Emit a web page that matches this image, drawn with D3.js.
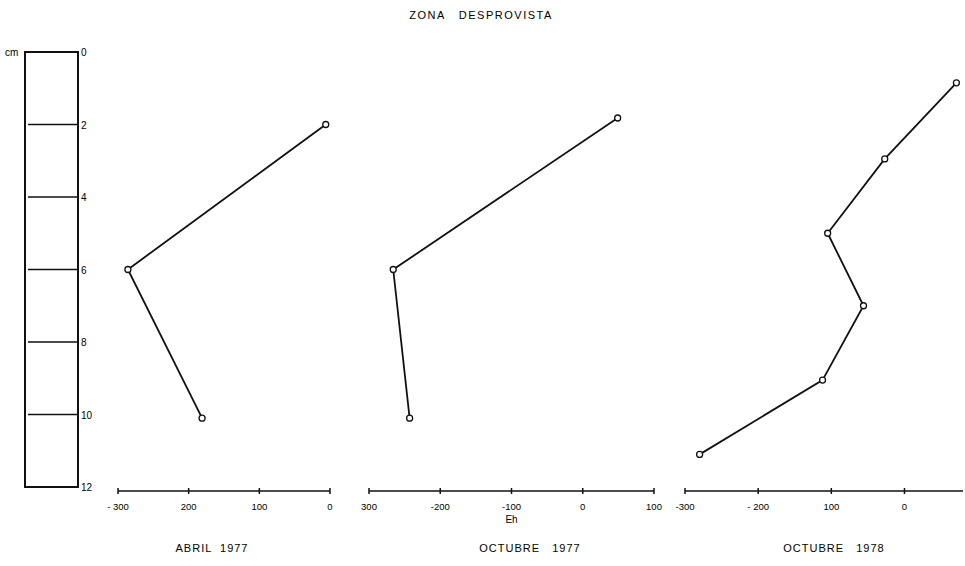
<!DOCTYPE html>
<html>
<head>
<meta charset="utf-8">
<script src="https://cdn.jsdelivr.net/npm/d3@7"></script>
<style>
  body { margin: 0; background: #fff; }
  svg { display: block; font-family: "Liberation Sans", Arial, sans-serif; }
</style>
</head>
<body>
<svg id="chart" width="965" height="566"></svg>
<script>
// datos: profundidad (cm) y Eh (mV)
const depthTicks = [0, 2, 4, 6, 8, 10, 12];

const abril77Depth = [2, 6, 10.1];
const abril77Eh = [-6, -286, -181];

const oct77Depth = [1.82, 6, 10.1];
const oct77Eh = [49, -266, -243];

const oct78Depth = [0.85, 2.95, 5, 7, 9.05, 11.1];
const oct78Eh = [71, -27, -105, -56, -112, -280];

// etiquetas tal como aparecen en la figura
const abril77Ticks = [-300, -200, -100, 0];
const abril77Labels = ["- 300", "200", "100", "0"];
const oct77Ticks = [-300, -200, -100, 0, 100];
const oct77Labels = ["300", "-200", "-100", "0", "100"];
const oct78Ticks = [-300, -200, -100, 0];
const oct78Labels = ["-300", "- 200", "100", "0"];

const svg = d3.select("#chart");

const y = d3.scaleLinear().domain([0, 12]).range([52, 487]);

// titulo
svg.append("text")
  .attr("x", 481).attr("y", 19)
  .attr("text-anchor", "middle")
  .style("font-size", "11px")
  .style("letter-spacing", "1.5px")
  .attr("xml:space", "preserve")
  .text("ZONA   DESPROVISTA");

// escala de profundidad
const boxL = 25, boxR = 78;
svg.append("rect")
  .attr("x", boxL).attr("y", y(0))
  .attr("width", boxR - boxL).attr("height", y(12) - y(0))
  .attr("fill", "none").attr("stroke", "#111").attr("stroke-width", 2);

svg.append("g").selectAll("line")
  .data(depthTicks.slice(1, -1))
  .join("line")
  .attr("x1", boxL + 3).attr("x2", boxR)
  .attr("y1", d => y(d)).attr("y2", d => y(d))
  .attr("stroke", "#111").attr("stroke-width", 1.5);

svg.append("g").selectAll("text")
  .data(depthTicks)
  .join("text")
  .attr("x", boxR + 3)
  .attr("y", d => y(d) + 4)
  .style("font-size", "10px")
  .text(d => d);

svg.append("text")
  .attr("x", 5).attr("y", y(0) + 4)
  .style("font-size", "10px")
  .text("cm");

// paneles
function panel(depths, ehs, domain, range, ticks, labels, title, titleX, showEh) {
  const x = d3.scaleLinear().domain(domain).range(range);
  const g = svg.append("g");
  const axisY = 491;

  g.append("line")
    .attr("x1", range[0]).attr("x2", range[1])
    .attr("y1", axisY).attr("y2", axisY)
    .attr("stroke", "#111").attr("stroke-width", 1.5);

  g.selectAll(".tick")
    .data(ticks)
    .join("line")
    .attr("class", "tick")
    .attr("x1", d => x(d)).attr("x2", d => x(d))
    .attr("y1", axisY - 3).attr("y2", axisY + 3)
    .attr("stroke", "#111").attr("stroke-width", 1.5);

  g.selectAll(".tlab")
    .data(ticks)
    .join("text")
    .attr("class", "tlab")
    .attr("x", d => x(d))
    .attr("y", 510)
    .attr("text-anchor", "middle")
    .style("font-size", "9.5px")
    .text((d, i) => labels[i]);

  if (showEh) {
    g.append("text")
      .attr("x", x(-100)).attr("y", 523)
      .attr("text-anchor", "middle")
      .style("font-size", "10px")
      .text("Eh");
  }

  g.append("text")
    .attr("x", titleX).attr("y", 552)
    .attr("text-anchor", "middle")
    .style("font-size", "11px")
    .style("letter-spacing", "1px")
    .attr("xml:space", "preserve")
    .text(title);

  const pts = depths.map((d, i) => [x(ehs[i]), y(d)]);

  g.append("path")
    .attr("d", d3.line()(pts))
    .attr("fill", "none")
    .attr("stroke", "#111")
    .attr("stroke-width", 1.8);

  g.selectAll(".pt")
    .data(pts)
    .join("circle")
    .attr("class", "pt")
    .attr("cx", d => d[0]).attr("cy", d => d[1])
    .attr("r", 3)
    .attr("fill", "#fff")
    .attr("stroke", "#111")
    .attr("stroke-width", 1.3);
}

panel(abril77Depth, abril77Eh, [-300, 0], [118, 330], abril77Ticks, abril77Labels, "ABRIL  1977", 212, false);
panel(oct77Depth, oct77Eh, [-300, 100], [369, 654], oct77Ticks, oct77Labels, "OCTUBRE   1977", 530, true);
panel(oct78Depth, oct78Eh, [-300, 80], [685, 963], oct78Ticks, oct78Labels, "OCTUBRE   1978", 834, false);
</script>
</body>
</html>
